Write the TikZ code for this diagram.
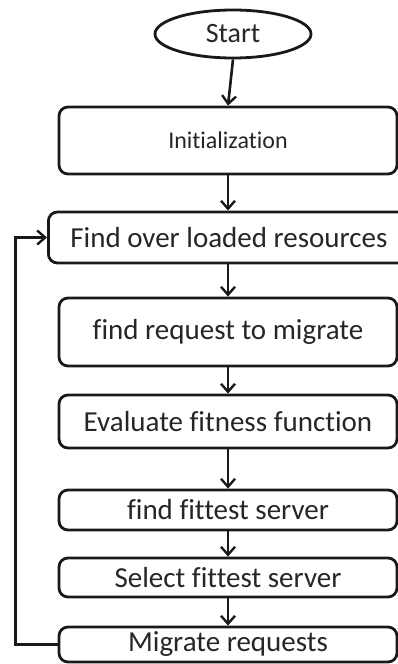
\documentclass[tikz,border=0pt]{standalone}
\usepackage{fontspec}
\setmainfont[Ligatures={NoCommon}]{Carlito}
\usetikzlibrary{shapes.geometric,arrows.meta}
\begin{document}
\begin{tikzpicture}[x=1pt,y=-1pt,
  box/.style={draw=black!90,line width=2.8pt,rounded corners=9pt,inner sep=0pt,text=black!85,font=\fontsize{29}{31}\selectfont},
  conn/.style={draw=black!90,line width=2.6pt,-{Straight Barb[length=8pt,width=14pt,line width=2.4pt]}}]
\useasboundingbox (0,0) rectangle (398,664);
\clip (0,0) rectangle (398,664);
\node[ellipse,draw=black!90,line width=2.8pt,inner sep=0pt,minimum width=156pt,minimum height=48pt,text=black!85,font=\fontsize{28}{30}\selectfont] (start) at (233,34) {Start};
\node[box,minimum width=338pt,minimum height=67pt,font=\fontsize{24}{26}\selectfont] (init) at (228,140.5) {Initialization};
\node[box,minimum width=366pt,minimum height=51pt,anchor=west] (over) at (47,237.5) {\hspace*{-5pt}Find over loaded resources};
\node[box,minimum width=338pt,minimum height=68pt] (req) at (228,332) {find request to migrate};
\node[box,minimum width=338pt,minimum height=53pt] (eval) at (228,421.5) {Evaluate fitness function};
\node[box,minimum width=338pt,minimum height=40pt] (fit) at (228,510) {find fittest server};
\node[box,minimum width=338pt,minimum height=39pt] (sel) at (228,577.5) {Select fittest server};
\node[box,minimum width=338pt,minimum height=35pt] (mig) at (228,644.5) {Migrate requests};
\draw[conn] (start.south) -- (init.north);
\draw[conn] (init.south) -- (init.south |- over.north);
\draw[conn] (init.south |- over.south) -- (req.north);
\draw[conn] (req.south) -- (eval.north);
\draw[conn] (eval.south) -- (fit.north);
\draw[conn] (fit.south) -- (sel.north);
\draw[conn] (sel.south) -- (mig.north);
\draw[conn] (mig.west) -- ++(-42,0) |- (over.west);
\end{tikzpicture}
\end{document}
